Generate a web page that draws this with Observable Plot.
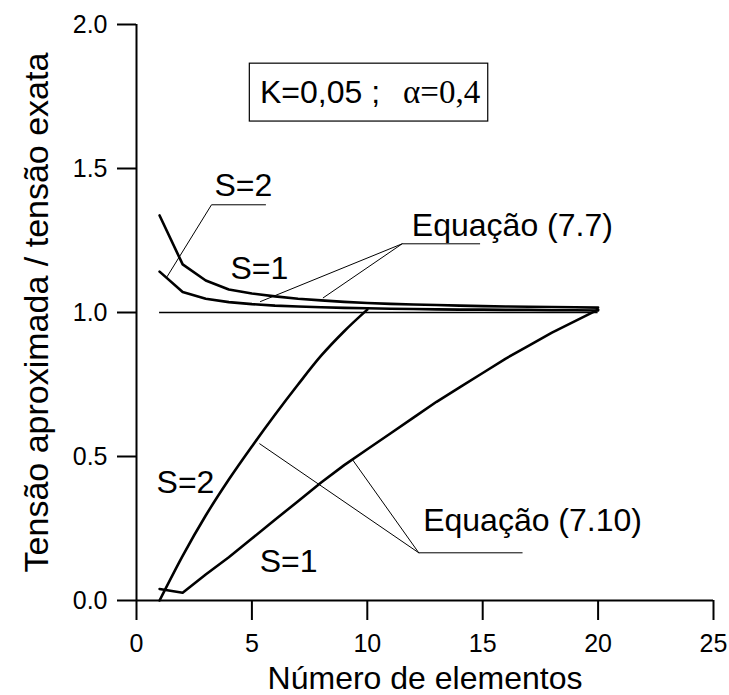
<!DOCTYPE html>
<html>
<head>
<meta charset="utf-8">
<script src="https://cdn.jsdelivr.net/npm/d3@7"></script>
<script src="https://cdn.jsdelivr.net/npm/@observablehq/plot@0.6"></script>
<style>
  html, body { margin: 0; padding: 0; background: #fff; }
  #chart svg { display: block; }
</style>
</head>
<body>
<div id="chart"></div>
<script>
// Number of elements (x)
const elements = [1, 2, 3, 4, 5, 6, 7, 8, 9, 10, 11, 12, 13, 14, 15, 16, 17, 18, 19, 20];

// Ratio approximate stress / exact stress, Equação (7.7)
const eq77S1 = [1.142, 1.071, 1.048, 1.036, 1.029, 1.024, 1.021, 1.018, 1.016, 1.015,
                1.013, 1.012, 1.011, 1.010, 1.010, 1.009, 1.009, 1.008, 1.008, 1.007];
const eq77S2 = [1.337, 1.167, 1.111, 1.080, 1.066, 1.056, 1.048, 1.042, 1.037, 1.033,
                1.030, 1.028, 1.026, 1.024, 1.022, 1.021, 1.020, 1.019, 1.018, 1.017];

// Ratio approximate stress / exact stress, Equação (7.10)
const eq710S1 = [0.040, 0.027, 0.090, 0.150, 0.215, 0.280, 0.345, 0.410, 0.470, 0.525,
                 0.580, 0.635, 0.690, 0.740, 0.790, 0.840, 0.885, 0.930, 0.970, 1.010];
const eq710S2 = [0.000, 0.155, 0.295, 0.420, 0.535, 0.645, 0.750, 0.850, 0.935, 1.010];

// Exact reference ratio
const exactRatio = 1.0;

// Axis ticks
const xTicks = [0, 5, 10, 15, 20, 25];
const yTicks = [0, 0.5, 1.0, 1.5, 2.0];

// Annotation labels (data coordinates, text baseline at y)
const sansLabels = [
  {x: 3.38, y: 1.406, text: "S=2"},
  {x: 4.07, y: 1.117, text: "S=1"},
  {x: 11.93, y: 1.267, text: "Equação (7.7)"},
  {x: 0.87, y: 0.373, text: "S=2"},
  {x: 5.34, y: 0.098, text: "S=1"},
  {x: 12.42, y: 0.243, text: "Equação (7.10)"},
  {x: 5.35, y: 1.727, text: "K=0,05 ;"}
];
const serifLabels = [
  {x: 11.55, y: 1.727, text: "α=0,4"}
];

// Parameter box corners
const paramBox = [{x1: 4.91, x2: 15.24, y1: 1.663, y2: 1.864}];

// Leader lines from labels to curves
const leaders = [
  {id: "a", pts: [[5.59, 1.374], [3.25, 1.374], [1.33, 1.125]]},
  {id: "b", pts: [[14.87, 1.2385], [11.51, 1.2385], [5.37, 1.038]]},
  {id: "c", pts: [[11.51, 1.2385], [8.09, 1.051]]},
  {id: "d", pts: [[16.71, 0.1656], [12.23, 0.1656], [5.34, 0.544]]},
  {id: "e", pts: [[12.23, 0.1656], [9.35, 0.490]]}
];

const toSeries = (xs, ys, name) => ys.map((v, i) => ({n: xs[i], r: v, series: name}));
const polyCurves = [
  ...toSeries(elements, eq77S1, "7.7 S=1"),
  ...toSeries(elements, eq77S2, "7.7 S=2"),
  ...toSeries(elements, eq710S1, "7.10 S=1")
];
const smoothCurves = toSeries(elements, eq710S2, "7.10 S=2");
const leaderRows = leaders.flatMap(l => l.pts.map(([x, y]) => ({x, y, id: l.id})));

const sans = "'Liberation Sans', Arial, Helvetica, sans-serif";
const serif = "'Liberation Serif', 'Times New Roman', serif";

const chart = Plot.plot({
  width: 729,
  height: 695,
  marginLeft: 136,
  marginRight: 16,
  marginTop: 24,
  marginBottom: 95,
  x: {domain: [0, 25]},
  y: {domain: [0, 2]},
  style: {fontFamily: sans, background: "#fff", color: "#000"},
  marks: [
    // Axes
    Plot.axisX({ticks: xTicks, tickSize: 20, tickPadding: 14, fontSize: 25, label: null, strokeWidth: 2, tickFormat: d3.format("d")}),
    Plot.axisY({ticks: yTicks, tickSize: 19, tickPadding: 10, fontSize: 25, label: null, strokeWidth: 2, tickFormat: d3.format(".1f")}),
    Plot.ruleY([0], {x1: 0, x2: 25, strokeWidth: 2}),
    Plot.ruleX([0], {y1: 0, y2: 2, strokeWidth: 2}),
    // Axis titles
    Plot.text(["Número de elementos"], {frameAnchor: "bottom", lineAnchor: "bottom", dy: 88, fontSize: 32, fontFamily: sans}),
    Plot.text(["Tensão aproximada / tensão exata"], {frameAnchor: "left", textAnchor: "middle", lineAnchor: "middle", rotate: -90, dx: -99, fontSize: 34, fontFamily: sans}),
    // Exact ratio reference
    Plot.ruleY([exactRatio], {x1: 1, x2: 20, strokeWidth: 1.6}),
    // Curves
    Plot.line(polyCurves, {x: "n", y: "r", z: "series", stroke: "#000", strokeWidth: 2.6, curve: "linear"}),
    Plot.line(smoothCurves, {x: "n", y: "r", z: "series", stroke: "#000", strokeWidth: 2.6, curve: "monotone-x"}),
    // Leader lines
    Plot.line(leaderRows, {x: "x", y: "y", z: "id", stroke: "#000", strokeWidth: 1}),
    // Parameter box
    Plot.rect(paramBox, {x1: "x1", x2: "x2", y1: "y1", y2: "y2", fill: "none", stroke: "#000", strokeWidth: 1.2}),
    // Labels
    Plot.text(sansLabels, {x: "x", y: "y", text: "text", textAnchor: "start", lineAnchor: "bottom", fontSize: 32, fontFamily: sans}),
    Plot.text(serifLabels, {x: "x", y: "y", text: "text", textAnchor: "start", lineAnchor: "bottom", fontSize: 33, fontFamily: serif})
  ]
});

document.getElementById("chart").appendChild(chart);
</script>
</body>
</html>
